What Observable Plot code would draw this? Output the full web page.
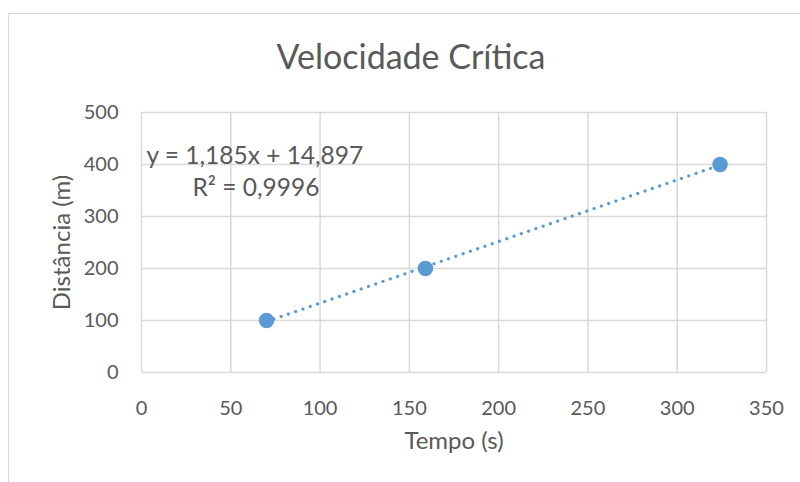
<!DOCTYPE html>
<html>
<head>
<meta charset="utf-8">
<script src="https://cdn.jsdelivr.net/npm/d3@7"></script>
<script src="https://cdn.jsdelivr.net/npm/@observablehq/plot@0.6"></script>
<style>
  html, body { margin: 0; padding: 0; background: #fff; overflow: hidden; }
  #wrap { position: relative; width: 800px; height: 482px; }
  #border { position: absolute; left: 8px; top: 13px; width: 820px; height: 500px; border: 1.5px solid #d9d9d9; box-sizing: border-box; }
  #chart { position: absolute; left: 0; top: 0; }
  svg { font-family: Lato, "Open Sans", sans-serif; }
</style>
</head>
<body>
<div id="wrap"><div id="border"></div><div id="chart"></div></div>
<script>
const tempo = [70, 159, 324];
const distancia = [100, 200, 400];
const slope = 1.185;
const intercept = 14.897;
const eqLabel = "y = 1,185x + 14,897";
const r2Label = "R² = 0,9996";
const xTicks = [0, 50, 100, 150, 200, 250, 300, 350];
const yTicks = [0, 100, 200, 300, 400, 500];
const titleText = "Velocidade Crítica";
const xLabel = "Tempo (s)";
const yLabel = "Distância (m)";

const pts = tempo.map((t, i) => ({t, d: distancia[i]}));
const trend = [d3.min(tempo), d3.max(tempo)].map(t => ({t, d: slope * t + intercept}));

const textColor = "#595959";
const chart = Plot.plot({
  width: 800,
  height: 482,
  marginLeft: 141,
  marginRight: 34,
  marginTop: 112,
  marginBottom: 110,
  style: {fontFamily: "Lato, 'Open Sans', sans-serif", background: "transparent", color: textColor},
  x: {domain: [0, 350], ticks: xTicks, label: null},
  y: {domain: [0, 500], ticks: yTicks, label: null},
  marks: [
    Plot.gridX(xTicks, {stroke: "#d9d9d9", strokeOpacity: 1, strokeWidth: 1.5}),
    Plot.gridY(yTicks, {stroke: "#d9d9d9", strokeOpacity: 1, strokeWidth: 1.5}),
    Plot.axisX(xTicks, {tickSize: 0, tickPadding: 28, fontSize: 20, fill: textColor, label: null}),
    Plot.axisY(yTicks, {tickSize: 0, tickPadding: 23, fontSize: 20, fill: textColor, label: null}),
    Plot.text([xLabel], {frameAnchor: "bottom", textAnchor: "middle", lineAnchor: "middle", dy: 69, fontSize: 24, fill: textColor}),
    Plot.text([yLabel], {frameAnchor: "left", textAnchor: "middle", lineAnchor: "middle", dx: -79, rotate: -90, fontSize: 24, fill: textColor}),
    Plot.text([titleText], {frameAnchor: "top", textAnchor: "middle", lineAnchor: "middle", dx: -43, dy: -54, fontSize: 34, fill: textColor}),
    Plot.line(trend, {x: "t", y: "d", stroke: "#5b9bd5", strokeWidth: 3.2, strokeDasharray: "0.1 7.6", strokeLinecap: "round"}),
    Plot.dot(pts, {x: "t", y: "d", r: 7, fill: "#5b9bd5", stroke: "#5b9bd5"}),
    Plot.text([eqLabel], {x: 0, y: 417, textAnchor: "start", dx: 5, fontSize: 24.5, fill: textColor}),
    Plot.text([r2Label], {x: 0, y: 354, textAnchor: "start", dx: 51, fontSize: 24.5, fill: textColor})
  ]
});
document.getElementById("chart").appendChild(chart);
</script>
</body>
</html>
